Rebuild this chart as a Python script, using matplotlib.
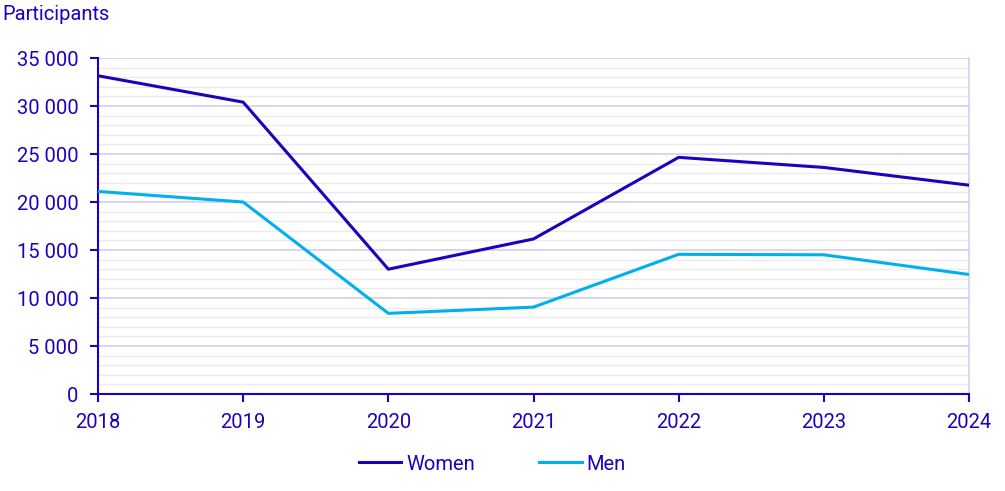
import matplotlib
matplotlib.use('Agg')
import matplotlib.pyplot as plt
from matplotlib.ticker import FuncFormatter, MultipleLocator

# data
years = [2018, 2019, 2020, 2021, 2022, 2023, 2024]
women = [33150, 30400, 13000, 16150, 24650, 23600, 21750]
men = [21100, 20000, 8400, 9050, 14550, 14500, 12450]

DARK = '#1E00BE'
LIGHT = '#00B0EC'
FS = 14.5

plt.rcParams['font.family'] = ['Roboto', 'DejaVu Sans']

fig = plt.figure(figsize=(10.05, 4.91), dpi=100)
ax = fig.add_axes([98 / 1005, 1 - 394 / 491, (969 - 98) / 1005, (394 - 58) / 491])

ax.plot(years, women, color=DARK, lw=2.2, label='Women', zorder=3)
ax.plot(years, men, color=LIGHT, lw=2.2, label='Men', zorder=3)

ax.set_xlim(2018, 2024)
ax.set_ylim(0, 35000)
ax.set_xticks(years)
ax.yaxis.set_major_locator(MultipleLocator(5000))
ax.yaxis.set_minor_locator(MultipleLocator(1000))
ax.yaxis.set_major_formatter(FuncFormatter(lambda v, p: f'{int(v):,}'.replace(',', ' ')))

ax.grid(which='major', axis='y', color='#D0D0F0', lw=1.2, zorder=1)
ax.grid(which='minor', axis='y', color='#EBEBEB', lw=1.0, zorder=0)

ax.spines['top'].set_visible(False)
ax.spines['right'].set_color('#D0D0F0')
ax.spines['right'].set_linewidth(1.2)
ax.spines['left'].set_color(DARK)
ax.spines['bottom'].set_color(DARK)
ax.spines['left'].set_linewidth(1.5)
ax.spines['bottom'].set_linewidth(1.5)

ax.tick_params(axis='both', which='major', colors=DARK, labelcolor=DARK,
               labelsize=FS, length=6, width=1.5)
ax.tick_params(axis='y', which='minor', length=0)
ax.tick_params(axis='y', pad=8)
ax.tick_params(axis='x', pad=8)

fig.text(2 / 1005, 1 - 14 / 491, 'Participants', color=DARK, fontsize=FS, va='center', ha='left')

ax.legend(loc='center', bbox_to_anchor=(0.49, 1 - 464 / 491), bbox_transform=fig.transFigure,
          ncol=2, frameon=False, fontsize=FS, labelcolor=DARK, handlelength=2.1,
          handletextpad=0.25, columnspacing=3.2)

fig.savefig('out.png', dpi=100)
